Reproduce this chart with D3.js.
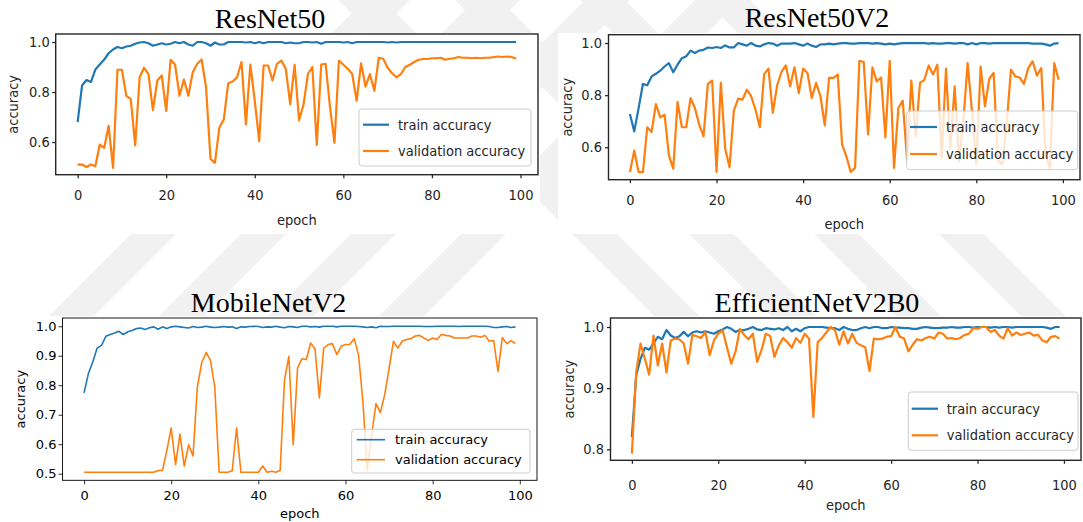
<!DOCTYPE html>
<html>
<head>
<meta charset="utf-8">
<script src="https://cdn.jsdelivr.net/npm/d3@7/dist/d3.min.js"></script>
<style>
  body { margin: 0; background: #fff; }
  svg { display: block; }
</style>
</head>
<body>
<div id="chart"></div>
<script>
var W = 1083, H = 522;

// epoch index on the x axis
var epochs = d3.range(100);
var xTicks = [0, 20, 40, 60, 80, 100];
var legendLabels = ["train accuracy", "validation accuracy"];

var resnet50Train = [0.68,0.826,0.848,0.84,0.89,0.91,0.93,0.955,0.97,0.98,
  0.975,0.982,0.985,0.993,0.998,1.0,0.995,0.985,0.99,0.995,
  0.99,0.993,1.0,0.995,1.0,0.99,0.985,1.0,1.0,0.995,
  0.985,0.998,0.99,0.99,1.0,1.0,1.0,1.0,0.998,1.0,
  0.995,1.0,0.995,1.0,1.0,1.0,1.0,0.995,0.998,0.995,
  0.995,1.0,1.0,0.998,1.0,0.993,1.0,1.0,1.0,1.0,
  0.998,1.0,0.995,1.0,1.0,1.0,1.0,1.0,1.0,1.0,
  0.998,1.0,0.998,1.0,1.0,1.0,1.0,1.0,1.0,1.0,
  1.0,1.0,1.0,1.0,1.0,1.0,1.0,1.0,1.0,1.0,
  1.0,1.0,1.0,1.0,1.0,1.0,1.0,1.0,1.0,1.0];
var resnet50Val = [0.51,0.51,0.50,0.51,0.503,0.59,0.577,0.665,0.497,0.889,
  0.889,0.785,0.772,0.587,0.859,0.897,0.872,0.728,0.846,0.866,
  0.725,0.929,0.91,0.785,0.85,0.785,0.879,0.913,0.93,0.819,
  0.533,0.517,0.658,0.69,0.835,0.842,0.859,0.92,0.671,0.91,
  0.765,0.604,0.906,0.906,0.846,0.913,0.926,0.893,0.752,0.909,
  0.687,0.749,0.872,0.9,0.588,0.91,0.913,0.738,0.597,0.926,
  0.909,0.893,0.872,0.765,0.915,0.822,0.872,0.805,0.937,0.933,
  0.897,0.875,0.859,0.872,0.9,0.909,0.92,0.929,0.932,0.932,
  0.935,0.935,0.937,0.929,0.933,0.935,0.94,0.937,0.937,0.935,
  0.937,0.935,0.937,0.937,0.94,0.942,0.94,0.942,0.94,0.933];

var resnet50v2Train = [0.728,0.661,0.75,0.843,0.838,0.872,0.882,0.894,0.91,0.923,
  0.888,0.917,0.942,0.949,0.971,0.962,0.971,0.974,0.983,0.981,
  0.985,0.981,0.991,0.983,0.983,1.0,0.995,0.99,1.0,0.99,
  0.987,0.995,1.0,0.998,0.99,0.998,0.998,0.998,1.0,0.995,
  0.99,0.998,0.99,0.985,0.995,0.995,0.998,0.995,0.998,1.0,
  1.0,0.998,0.998,1.0,1.0,1.0,0.998,1.0,0.998,0.995,
  0.998,0.995,0.998,1.0,1.0,1.0,1.0,1.0,1.0,0.998,
  1.0,0.998,0.998,1.0,1.0,0.998,1.0,1.0,0.995,1.0,
  0.995,1.0,1.0,0.998,1.0,1.0,1.0,1.0,1.0,1.0,
  1.0,1.0,1.0,0.998,0.998,0.998,0.995,0.99,0.998,1.0];
var resnet50v2Val = [0.505,0.587,0.505,0.505,0.677,0.659,0.766,0.715,0.725,0.569,
  0.518,0.774,0.677,0.677,0.789,0.751,0.687,0.642,0.843,0.856,
  0.505,0.847,0.595,0.523,0.741,0.787,0.783,0.821,0.796,0.744,
  0.677,0.881,0.902,0.732,0.838,0.889,0.914,0.834,0.907,0.808,
  0.902,0.885,0.789,0.847,0.796,0.684,0.866,0.866,0.879,0.61,
  0.565,0.505,0.521,0.932,0.927,0.649,0.907,0.853,0.868,0.638,
  0.932,0.521,0.751,0.779,0.553,0.856,0.642,0.847,0.859,0.914,
  0.879,0.917,0.559,0.902,0.597,0.834,0.546,0.7,0.923,0.738,
  0.534,0.91,0.757,0.863,0.885,0.549,0.534,0.687,0.898,0.872,
  0.868,0.843,0.904,0.93,0.875,0.904,0.572,0.521,0.923,0.859];

var mobilenetTrain = [0.774,0.84,0.879,0.926,0.935,0.966,0.972,0.977,0.983,0.972,
  0.981,0.986,0.992,0.994,0.989,0.995,0.998,0.99,0.998,0.992,
  0.998,1.0,0.998,0.996,0.994,0.999,0.996,0.997,1.0,0.997,
  0.996,0.997,0.999,0.997,0.998,0.992,0.998,0.997,0.999,1.0,
  0.999,0.996,0.998,0.997,1.0,0.997,0.995,0.999,0.998,0.996,
  1.0,1.0,0.998,0.999,0.997,1.0,1.0,1.0,0.998,1.0,
  1.0,1.0,1.0,0.999,0.998,0.996,0.998,0.995,1.0,0.999,
  0.999,1.0,1.0,1.0,1.0,1.0,1.0,1.0,0.999,0.999,
  0.999,1.0,1.0,1.0,1.0,1.0,0.999,1.0,1.0,1.0,
  1.0,1.0,1.0,0.999,0.996,0.996,0.998,0.999,0.996,0.998];
var mobilenetVal = [0.505,0.505,0.505,0.505,0.505,0.505,0.505,0.505,0.505,0.505,
  0.505,0.505,0.505,0.505,0.505,0.505,0.505,0.511,0.511,0.579,
  0.655,0.531,0.634,0.526,0.598,0.56,0.794,0.877,0.911,0.885,
  0.794,0.505,0.505,0.505,0.51,0.655,0.505,0.505,0.505,0.505,
  0.505,0.526,0.505,0.508,0.505,0.511,0.817,0.898,0.598,0.859,
  0.89,0.887,0.943,0.924,0.757,0.926,0.938,0.941,0.904,0.932,
  0.938,0.939,0.958,0.902,0.743,0.511,0.632,0.738,0.707,0.768,
  0.856,0.949,0.926,0.949,0.955,0.958,0.967,0.969,0.96,0.952,
  0.96,0.955,0.972,0.969,0.967,0.96,0.96,0.96,0.96,0.967,
  0.967,0.963,0.969,0.949,0.952,0.847,0.962,0.941,0.951,0.941];

var efficientTrain = [0.82,0.921,0.948,0.966,0.963,0.973,0.984,0.98,0.995,0.986,
  0.982,0.985,0.992,0.985,0.991,0.993,0.991,0.993,0.991,0.989,
  0.993,0.996,1.0,0.997,0.992,0.995,0.995,0.997,1.0,0.996,
  0.995,0.998,0.997,0.996,0.998,0.995,1.0,0.993,0.997,0.993,
  0.998,1.0,1.0,1.0,1.0,0.999,0.998,0.998,0.995,1.0,
  0.997,0.995,0.995,0.998,1.0,0.998,1.0,1.0,0.998,0.998,
  1.0,0.999,0.999,0.998,0.998,0.997,0.997,0.999,1.0,0.999,
  0.998,0.998,0.999,0.999,1.0,0.999,0.999,1.0,1.0,0.999,
  1.0,1.0,1.0,0.999,1.0,0.999,1.0,1.0,0.999,1.0,
  1.0,1.0,1.0,1.0,1.0,1.0,0.999,0.997,1.0,1.0];
var efficientVal = [0.793,0.926,0.973,0.948,0.922,0.986,0.937,0.973,0.926,0.978,
  0.981,0.98,0.973,0.94,0.987,0.985,0.982,0.992,0.954,0.978,
  0.989,0.995,0.967,0.94,0.96,0.997,0.987,0.98,0.989,0.943,
  0.962,0.989,0.985,0.951,0.97,0.982,0.975,0.966,0.982,0.974,
  0.989,0.981,0.853,0.975,0.982,0.991,1.0,0.995,0.971,0.993,
  0.973,0.989,0.974,0.97,0.967,0.928,0.981,0.98,0.981,0.984,
  0.985,1.0,0.984,0.981,0.96,0.971,0.98,0.978,0.982,0.984,
  0.981,0.991,0.989,0.981,0.982,0.98,0.982,0.987,0.989,0.998,
  0.997,1.0,1.0,0.992,0.995,0.986,0.981,0.998,0.986,0.991,
  0.987,0.989,0.991,0.986,0.987,0.978,0.975,0.984,0.985,0.981];

var colors = ["#1f77b4", "#ff7f0e"];

var svg = d3.select("#chart").append("svg")
  .attr("width", W)
  .attr("height", H);

svg.append("rect").attr("width", W).attr("height", H).attr("fill", "#fff");

var defs = svg.append("defs");

// faint watermark stripes behind the four chart images
var wm = svg.append("g");
[95, 205, 315, 425].forEach(function(c) {
  wm.append("path")
    .attr("d", ["M", c + 270, 0, "L", c + 315, 0, "L", c - 207, H, "L", c - 252, H, "Z"].join(" "))
    .attr("fill", "#f1f1f1");
});
[608, 725, 850, 975].forEach(function(c) {
  wm.append("path")
    .attr("d", ["M", c - 270, 0, "L", c - 225, 0, "L", c + 297, H, "L", c + 252, H, "Z"].join(" "))
    .attr("fill", "#f1f1f1");
});
[[0, 33, 540, 201], [558, 33, 525, 201], [0, 316, 540, 206], [558, 316, 525, 206]].forEach(function(r) {
  svg.append("rect")
    .attr("x", r[0]).attr("y", r[1])
    .attr("width", r[2]).attr("height", r[3])
    .attr("fill", "#fff");
});

var panels = [
  { id: "p1", title: "ResNet50", titleX: 270, titleY: 28,
    left: 55.7, right: 538, top: 34, bottom: 174.7, yDomain: [0.4695, 1.032],
    yTicks: [0.6, 0.8, 1.0], train: resnet50Train, val: resnet50Val,
    font: "'DejaVu Sans Condensed', 'DejaVu Sans', sans-serif", fs: 14.5,
    lw: 2.2, spine: 1.4, spineColor: "#262626", tick: 3.5, xPad: 12, yPad: 2.5,
    xLabelY: 225, yLabelX: 18,
    legend: { x: 359, y: 109, w: 172, h: 57, lx: 363, lw: 26, tx: 398, ty: [124.7, 151] } },
  { id: "p2", title: "ResNet50V2", titleX: 817, titleY: 27,
    left: 608.5, right: 1080, top: 34.7, bottom: 179.7, yDomain: [0.4757, 1.032],
    yTicks: [0.6, 0.8, 1.0], train: resnet50v2Train, val: resnet50v2Val,
    font: "'DejaVu Sans Condensed', 'DejaVu Sans', sans-serif", fs: 14.5,
    lw: 2.2, spine: 1.4, spineColor: "#262626", tick: 3.5, xPad: 12, yPad: 3,
    xLabelY: 229, yLabelX: 572,
    legend: { x: 906.7, y: 111, w: 171, h: 58.7, lx: 910, lw: 27, tx: 946, ty: [127, 154] } },
  { id: "p3", title: "MobileNetV2", titleX: 268.6, titleY: 312,
    left: 62.5, right: 537, top: 318, bottom: 480.3, yDomain: [0.4776, 1.028],
    yTicks: [0.5, 0.6, 0.7, 0.8, 0.9, 1.0], train: mobilenetTrain, val: mobilenetVal,
    font: "'DejaVu Sans', sans-serif", fs: 13,
    lw: 1.6, spine: 0.9, spineColor: "#000", tick: 4, xPad: 6, yPad: 2,
    xLabelY: 518, yLabelX: 24.5,
    legend: { x: 351.7, y: 429.3, w: 178.3, h: 43.7, lx: 356.7, lw: 28.3, tx: 395, ty: [439.7, 459.7] } },
  { id: "p4", title: "EfficientNetV2B0", titleX: 817, titleY: 312,
    left: 610.5, right: 1081, top: 318, bottom: 460.3, yDomain: [0.782, 1.0147],
    yTicks: [0.8, 0.9, 1.0], train: efficientTrain, val: efficientVal,
    font: "'DejaVu Sans Condensed', 'DejaVu Sans', sans-serif", fs: 14.5,
    lw: 2.2, spine: 1.4, spineColor: "#262626", tick: 3.5, xPad: 16, yPad: 3,
    xLabelY: 510, yLabelX: 574,
    legend: { x: 908.3, y: 392, w: 169.7, h: 58.3, lx: 911.7, lw: 26.3, tx: 946.7, ty: [408.7, 435.3] } }
];

function drawPanel(p) {
  var x = d3.scaleLinear().domain([-4.95, 103.95]).range([p.left, p.right]);
  var y = d3.scaleLinear().domain(p.yDomain).range([p.bottom, p.top]);
  var g = svg.append("g");

  g.append("text")
    .attr("x", p.titleX)
    .attr("y", p.titleY)
    .attr("text-anchor", "middle")
    .style("font-family", "'Liberation Serif', 'Times New Roman', serif")
    .style("font-size", "28px")
    .attr("fill", "#000")
    .text(p.title);

  defs.append("clipPath").attr("id", "clip-" + p.id)
    .append("rect")
    .attr("x", p.left).attr("y", p.top)
    .attr("width", p.right - p.left).attr("height", p.bottom - p.top);

  var line = d3.line()
    .x(function(d, i) { return x(epochs[i]); })
    .y(function(d) { return y(d); });

  var plot = g.append("g").attr("clip-path", "url(#clip-" + p.id + ")");
  [p.train, p.val].forEach(function(series, k) {
    plot.append("path")
      .datum(series)
      .attr("d", line)
      .attr("fill", "none")
      .attr("stroke", colors[k])
      .attr("stroke-width", p.lw)
      .attr("stroke-linejoin", "round");
  });

  var xAxis = g.append("g")
    .attr("transform", "translate(0," + p.bottom + ")")
    .call(d3.axisBottom(x).tickValues(xTicks).tickSize(p.tick).tickPadding(p.xPad).tickFormat(d3.format("d")));
  var yAxis = g.append("g")
    .attr("transform", "translate(" + p.left + ",0)")
    .call(d3.axisLeft(y).tickValues(p.yTicks).tickSize(p.tick).tickPadding(p.yPad).tickFormat(d3.format(".1f")));

  [xAxis, yAxis].forEach(function(ax) {
    ax.select(".domain").remove();
    ax.selectAll("line").attr("stroke", p.spineColor).attr("stroke-width", p.spine * 0.9);
    ax.selectAll("text")
      .attr("fill", p.spineColor)
      .style("font-family", p.font)
      .style("font-size", p.fs + "px");
  });

  g.append("rect")
    .attr("x", p.left).attr("y", p.top)
    .attr("width", p.right - p.left).attr("height", p.bottom - p.top)
    .attr("fill", "none")
    .attr("stroke", p.spineColor)
    .attr("stroke-width", p.spine);

  g.append("text")
    .attr("x", (p.left + p.right) / 2)
    .attr("y", p.xLabelY)
    .attr("text-anchor", "middle")
    .attr("fill", p.spineColor)
    .style("font-family", p.font)
    .style("font-size", p.fs + "px")
    .text("epoch");

  g.append("text")
    .attr("transform", "translate(" + p.yLabelX + "," + ((p.top + p.bottom) / 2) + ") rotate(-90)")
    .attr("text-anchor", "middle")
    .attr("fill", p.spineColor)
    .style("font-family", p.font)
    .style("font-size", p.fs + "px")
    .text("accuracy");

  var L = p.legend;
  var lg = g.append("g");
  lg.append("rect")
    .attr("x", L.x).attr("y", L.y)
    .attr("width", L.w).attr("height", L.h)
    .attr("rx", 3)
    .attr("fill", "#fff")
    .attr("fill-opacity", 0.8)
    .attr("stroke", "#cccccc")
    .attr("stroke-width", 1);
  legendLabels.forEach(function(label, k) {
    lg.append("line")
      .attr("x1", L.lx).attr("x2", L.lx + L.lw)
      .attr("y1", L.ty[k]).attr("y2", L.ty[k])
      .attr("stroke", colors[k])
      .attr("stroke-width", p.lw);
    lg.append("text")
      .attr("x", L.tx)
      .attr("y", L.ty[k])
      .attr("dy", "0.35em")
      .attr("fill", p.spineColor)
      .style("font-family", p.font)
      .style("font-size", p.fs + "px")
      .text(label);
  });
}

panels.forEach(drawPanel);
</script>
</body>
</html>
